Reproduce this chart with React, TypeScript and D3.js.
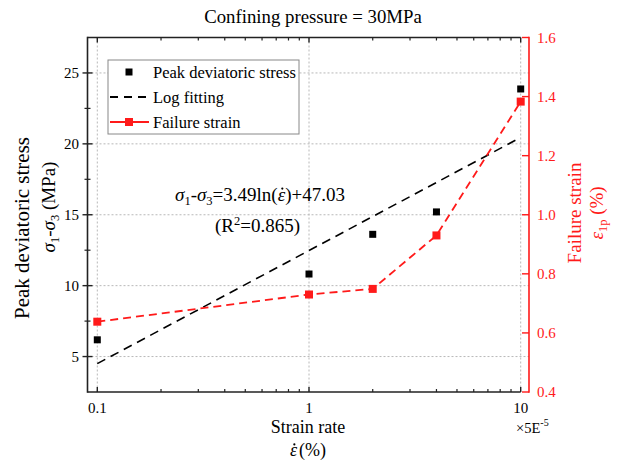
import React, { useRef, useLayoutEffect, useState } from "react";
import * as d3 from "d3";

const strainRates = [0.1, 1, 2, 4, 10];
const peakStress = [6.18, 10.82, 13.62, 15.2, 23.87];
const failureStrain = [0.638, 0.73, 0.749, 0.93, 1.383];
const fitRates = [0.1, 10];
const fitStress = [4.5, 20.45];
const leftTicks = [5, 10, 15, 20, 25];
const leftMinor = [7.5, 12.5, 17.5, 22.5];
const rightTicks = [0.4, 0.6, 0.8, 1.0, 1.2, 1.4, 1.6];
const xTicks = [0.1, 1, 10];
const xMinor = [0.2, 0.3, 0.4, 0.5, 0.6, 0.7, 0.8, 0.9, 2, 3, 4, 5, 6, 7, 8, 9];

const FONT = "Liberation Serif";
const RED = "#ff1a1a";

type Dot = { cx: number; cy: number };

export default function App() {
  const L = 87.5, R = 529, T = 37.5, B = 392;
  const x = d3.scaleLog().domain([0.1, 10]).range([97.3, 520.7]);
  const y = d3.scaleLinear().domain([2.5, 27.5]).range([B, T]);
  const y2 = d3.scaleLinear().domain([0.4, 1.6]).range([B, T]);

  const stressPts = strainRates.map((r, i) => [x(r), y(peakStress[i])] as [number, number]);
  const strainPts = strainRates.map((r, i) => [x(r), y2(failureStrain[i])] as [number, number]);
  const fitPts = fitRates.map((r, i) => [x(r), y(fitStress[i])] as [number, number]);
  const line = d3.line();

  const eqRef = useRef<SVGTextElement>(null);
  const axRef = useRef<SVGTextElement>(null);
  const [dots, setDots] = useState<Dot[]>([]);

  useLayoutEffect(() => {
    const out: Dot[] = [];
    const add = (el: SVGTextElement | null, idx: number) => {
      if (!el) return;
      try {
        const e = el.getExtentOfChar(idx);
        out.push({ cx: e.x + e.width * 0.62, cy: e.y + e.height * 0.22 });
      } catch (err) {
        /* ignore */
      }
    };
    add(eqRef.current, 13);
    add(axRef.current, 0);
    setDots(out);
  }, []);

  return (
    <div style={{ position: "absolute", left: 0, top: 0 }}>
      <svg width={619} height={464} style={{ display: "block" }}>
        <rect width={619} height={464} fill="#fff" />
        <g fontFamily={FONT}>
          {/* title */}
          <text x={313} y={23} textAnchor="middle" fontSize={18.8} fill="#000">Confining pressure = 30MPa</text>

          {/* grid */}
          {xTicks.map((t) => (
            <line key={"gx" + t} x1={x(t)} x2={x(t)} y1={T} y2={B} stroke="#b8b8b8" strokeWidth={1} strokeDasharray="2,2" />
          ))}
          {leftTicks.map((t) => (
            <line key={"gy" + t} x1={L} x2={R} y1={y(t)} y2={y(t)} stroke="#b8b8b8" strokeWidth={1} strokeDasharray="2,2" />
          ))}

          {/* legend */}
          <rect x={108} y={60} width={191} height={74} fill="#fff" stroke="#888" strokeWidth={1} />
          <rect x={125.5} y={68.5} width={7} height={7} fill="#000" />
          <text x={153} y={78} fontSize={16.5} fill="#000">Peak deviatoric stress</text>
          <line x1={110} x2={149} y1={97} y2={97} stroke="#000" strokeWidth={2} strokeDasharray="8,6" />
          <text x={153} y={103} fontSize={16.5} fill="#000">Log fitting</text>
          <line x1={110} x2={149} y1={122} y2={122} stroke={RED} strokeWidth={1.8} />
          <rect x={125} y={118} width={8} height={8} fill={RED} />
          <text x={153} y={128} fontSize={16.5} fill="#000">Failure strain</text>

          {/* fit line */}
          <path d={line(fitPts) || ""} fill="none" stroke="#000" strokeWidth={1.6} strokeDasharray="9,6" />
          {/* failure strain line */}
          <path d={line(strainPts) || ""} fill="none" stroke={RED} strokeWidth={1.8} strokeDasharray="8,5" />
          {strainPts.map(([px, py], i) => (
            <rect key={"s" + i} x={px - 4} y={py - 4} width={8} height={8} fill={RED} />
          ))}
          {stressPts.map(([px, py], i) => (
            <rect key={"p" + i} x={px - 3.5} y={py - 3.5} width={7} height={7} fill="#000" />
          ))}

          {/* equation */}
          <text ref={eqRef} x={175} y={201} fontSize={19} fill="#000">
            <tspan fontStyle="italic">σ</tspan>
            <tspan fontSize={12.5} dy={4}>1</tspan>
            <tspan dy={-4}>-</tspan>
            <tspan fontStyle="italic">σ</tspan>
            <tspan fontSize={12.5} dy={4}>3</tspan>
            <tspan dy={-4}>=3.49ln(</tspan>
            <tspan fontStyle="italic">ε</tspan>
            <tspan>)+47.03</tspan>
          </text>
          <text x={215} y={232} fontSize={19} fill="#000">
            <tspan>(R</tspan>
            <tspan fontSize={12.5} dy={-7}>2</tspan>
            <tspan dy={7}>=0.865)</tspan>
          </text>

          {/* axes frame */}
          <line x1={L} x2={x(10)} y1={T} y2={T} stroke="#222" strokeWidth={1.6} />
          <line x1={L} x2={x(10)} y1={B} y2={B} stroke="#222" strokeWidth={1.6} />
          <line x1={L} x2={L} y1={T - 0.8} y2={B + 0.8} stroke="#222" strokeWidth={1.6} />
          <line x1={R} x2={R} y1={T - 0.8} y2={B + 0.8} stroke={RED} strokeWidth={1.6} />

          {/* x ticks (inside, top and bottom) */}
          {xTicks.map((t) => (
            <g key={"xt" + t}>
              <line x1={x(t)} x2={x(t)} y1={B} y2={B - 5} stroke="#222" strokeWidth={1.4} />
              <line x1={x(t)} x2={x(t)} y1={T} y2={T + 5} stroke="#222" strokeWidth={1.4} />
              <text x={x(t)} y={413} textAnchor="middle" fontSize={15} fill="#000">{String(t)}</text>
            </g>
          ))}
          {xMinor.map((t) => (
            <g key={"xm" + t}>
              <line x1={x(t)} x2={x(t)} y1={B} y2={B - 3} stroke="#222" strokeWidth={1.2} />
              <line x1={x(t)} x2={x(t)} y1={T} y2={T + 3} stroke="#222" strokeWidth={1.2} />
            </g>
          ))}

          {/* left ticks */}
          {leftTicks.map((t) => (
            <g key={"lt" + t}>
              <line x1={L - 5} x2={L + 5} y1={y(t)} y2={y(t)} stroke="#222" strokeWidth={1.4} />
              <text x={79} y={y(t) + 5} textAnchor="end" fontSize={15} fill="#000">{String(t)}</text>
            </g>
          ))}
          {leftMinor.map((t) => (
            <line key={"lm" + t} x1={L - 3} x2={L + 3} y1={y(t)} y2={y(t)} stroke="#222" strokeWidth={1.2} />
          ))}

          {/* right ticks */}
          {rightTicks.map((t) => (
            <g key={"rt" + t}>
              <line x1={R - 7} x2={R} y1={y2(t)} y2={y2(t)} stroke={RED} strokeWidth={1.4} />
              <text x={537} y={y2(t) + 5} textAnchor="start" fontSize={15} fill={RED}>{t.toFixed(1)}</text>
            </g>
          ))}

          {/* x axis titles */}
          <text x={308} y={433} textAnchor="middle" fontSize={18} fill="#000">Strain rate</text>
          <text ref={axRef} x={308} y={456} textAnchor="middle" fontSize={18} fill="#000">
            <tspan fontStyle="italic">ε</tspan>
            <tspan dx={2}>(%)</tspan>
          </text>
          <text x={516} y={433} fontSize={14.5} fill="#000">
            <tspan>×5E</tspan>
            <tspan fontSize={10} dy={-7}>-5</tspan>
          </text>

          {/* dots above epsilon (rate) */}
          {dots.map((d, i) => (
            <circle key={"dot" + i} cx={d.cx} cy={d.cy} r={1.1} fill="#000" />
          ))}

          {/* left axis title */}
          <text transform="translate(29,228) rotate(-90)" textAnchor="middle" fontSize={21} fill="#000">Peak deviatoric stress</text>
          <text transform="translate(55,207) rotate(-90)" textAnchor="middle" fontSize={19} fill="#000">
            <tspan fontStyle="italic">σ</tspan>
            <tspan fontSize={12.5} dy={4}>1</tspan>
            <tspan dy={-4}>-</tspan>
            <tspan fontStyle="italic">σ</tspan>
            <tspan fontSize={12.5} dy={4}>3</tspan>
            <tspan dy={-4}> (MPa)</tspan>
          </text>

          {/* right axis title */}
          <text transform="translate(581,213) rotate(-90)" textAnchor="middle" fontSize={19} fill={RED}>Failure strain</text>
          <text transform="translate(603,213) rotate(-90)" textAnchor="middle" fontSize={19} fill={RED}>
            <tspan fontStyle="italic">ε</tspan>
            <tspan fontSize={12.5} dy={4}>1p</tspan>
            <tspan dy={-4}> (%)</tspan>
          </text>
        </g>
      </svg>
    </div>
  );
}
